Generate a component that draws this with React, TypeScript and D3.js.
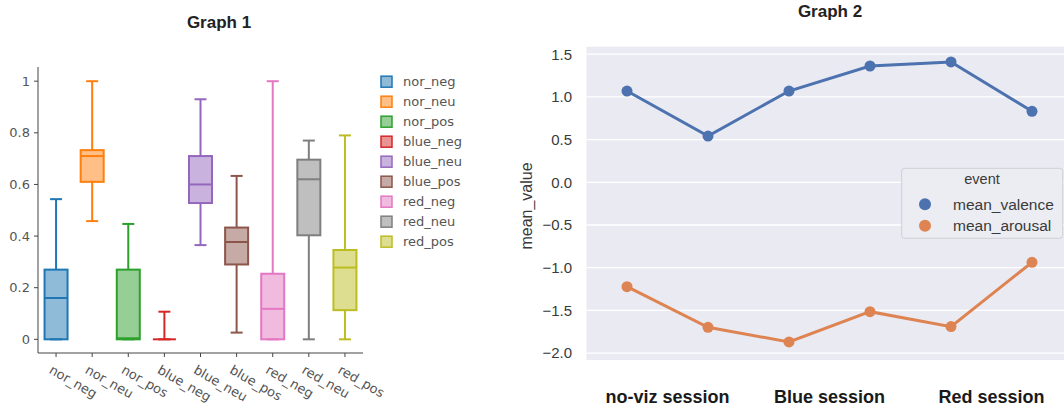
import React from "react"
import { scaleBand, scaleLinear, scalePoint, line } from "d3"

// Graph 1 data (box plot summaries)
const groups = ["nor_neg", "nor_neu", "nor_pos", "blue_neg", "blue_neu", "blue_pos", "red_neg", "red_neu", "red_pos"]
const lowWhisker = [0, 0.458, 0, 0, 0.365, 0.026, 0, 0, 0]
const q1 = [0, 0.61, 0, 0, 0.528, 0.29, 0, 0.403, 0.113]
const medians = [0.16, 0.71, 0.004, 0, 0.6, 0.377, 0.118, 0.62, 0.278]
const q3 = [0.27, 0.733, 0.27, 0, 0.71, 0.433, 0.254, 0.696, 0.346]
const highWhisker = [0.543, 1, 0.447, 0.107, 0.93, 0.633, 1, 0.77, 0.79]
const boxColors = ["#1f77b4", "#ff7f0e", "#2ca02c", "#d62728", "#9467bd", "#8c564b", "#e377c2", "#7f7f7f", "#bcbd22"]
const g1Ticks = [0, 0.2, 0.4, 0.6, 0.8, 1]

// Graph 2 data (point plot)
const steps = ["no-viz 1", "no-viz 2", "blue 1", "blue 2", "red 1", "red 2"]
const sessions = ["no-viz session", "Blue session", "Red session"]
const meanValence = [1.069, 0.542, 1.069, 1.362, 1.409, 0.831]
const meanArousal = [-1.222, -1.698, -1.87, -1.515, -1.69, -0.937]
const seriesNames = ["mean_valence", "mean_arousal"]
const seriesColors = ["#4c72b0", "#dd8452"]
const g2Ticks = [-2, -1.5, -1, -0.5, 0, 0.5, 1, 1.5]

const width = 1064
const height = 410

function Graph1() {
  const x = scaleBand().domain(groups).range([38, 363])
  const y = scaleLinear().domain([-0.053, 1.055]).range([353, 67])
  const boxW = 23
  const capW = 12
  const gray = "#555"
  const fmt = (v) => (v === 0 || v === 1 ? String(v) : v.toFixed(1))

  return (
    <g>
      <text x={219} y={28} textAnchor="middle" fontFamily="Liberation Sans, Arial" fontWeight="bold" fontSize={17} fill="#222">Graph 1</text>
      <line x1={38} x2={38} y1={67} y2={353} stroke="#444" strokeWidth={1} />
      <line x1={38} x2={363} y1={353} y2={353} stroke="#444" strokeWidth={1} />
      {g1Ticks.map(t => (
        <g key={t} transform={`translate(38, ${y(t)})`}>
          <line x1={-4} x2={0} stroke="#444" />
          <text x={-8} dy="0.35em" textAnchor="end" fontFamily="DejaVu Sans" fontSize={13} fill={gray}>{fmt(t)}</text>
        </g>
      ))}
      {groups.map(gname => {
        const cx = x(gname) + x.bandwidth() / 2
        return (
          <g key={gname} transform={`translate(${cx}, 353)`}>
            <line y2={4} stroke="#444" />
            <text transform="translate(-3, 11) rotate(30)" dy="0.75em" fontFamily="DejaVu Sans" fontSize={13} fill={gray}>{gname}</text>
          </g>
        )
      })}
      {groups.map((gname, i) => {
        const cx = x(gname) + x.bandwidth() / 2
        const c = boxColors[i]
        return (
          <g key={gname}>
            <line x1={cx} x2={cx} y1={y(q3[i])} y2={y(highWhisker[i])} stroke={c} strokeWidth={2} />
            <line x1={cx} x2={cx} y1={y(q1[i])} y2={y(lowWhisker[i])} stroke={c} strokeWidth={2} />
            <line x1={cx - capW / 2} x2={cx + capW / 2} y1={y(highWhisker[i])} y2={y(highWhisker[i])} stroke={c} strokeWidth={2} />
            <line x1={cx - capW / 2} x2={cx + capW / 2} y1={y(lowWhisker[i])} y2={y(lowWhisker[i])} stroke={c} strokeWidth={2} />
            <rect x={cx - boxW / 2} width={boxW} y={y(q3[i])} height={Math.max(0, y(q1[i]) - y(q3[i]))} fill={c} fillOpacity={0.5} stroke={c} strokeWidth={2} />
            <line x1={cx - boxW / 2} x2={cx + boxW / 2} y1={y(medians[i])} y2={y(medians[i])} stroke={c} strokeWidth={2} />
          </g>
        )
      })}
      {groups.map((gname, i) => (
        <g key={gname} transform={`translate(381, ${81.7 + i * 20})`}>
          <rect x={0} y={-5.5} width={11} height={11} fill={boxColors[i]} fillOpacity={0.5} stroke={boxColors[i]} strokeWidth={1.5} />
          <text x={22} dy="0.35em" fontFamily="DejaVu Sans" fontSize={13} fill={gray}>{gname}</text>
        </g>
      ))}
    </g>
  )
}

function Graph2() {
  const left = 586.5
  const right = 1072.5
  const top = 46.7
  const bottom = 360
  const x = scalePoint().domain(steps).range([left, right]).padding(0.5)
  const y = scaleLinear().domain([-2.081, 1.588]).range([bottom, top])
  const path = line().x((d, i) => x(steps[i])).y(d => y(d))
  const series = [meanValence, meanArousal]
  const fmt = (v) => v.toFixed(1).replace("-", "\u2212")
  const font = "Liberation Sans, Arial"

  return (
    <g>
      <text x={830} y={17} textAnchor="middle" fontFamily={font} fontWeight="bold" fontSize={17} fill="#222">Graph 2</text>
      <rect x={left} y={top} width={right - left} height={bottom - top} fill="#eaeaf2" />
      {g2Ticks.map(t => (
        <g key={t}>
          <line x1={left} x2={right} y1={y(t)} y2={y(t)} stroke="#fff" strokeWidth={1.3} />
          <text x={572} y={y(t)} dy="0.36em" textAnchor="end" fontFamily={font} fontSize={15} fill="#3a3a3a">{fmt(t)}</text>
        </g>
      ))}
      <text transform="translate(532, 206) rotate(-90)" textAnchor="middle" fontFamily={font} fontSize={16} fill="#3a3a3a">mean_value</text>
      {sessions.map((s, i) => {
        const cx = (x(steps[i * 2]) + x(steps[i * 2 + 1])) / 2
        return (
          <text key={s} x={cx} y={403} textAnchor="middle" fontFamily={font} fontWeight="bold" fontSize={18} fill="#1a1a1a">{s}</text>
        )
      })}
      {series.map((vals, si) => (
        <g key={seriesNames[si]}>
          <path d={path(vals)} fill="none" stroke={seriesColors[si]} strokeWidth={3} />
          {vals.map((v, i) => (
            <circle key={i} cx={x(steps[i])} cy={y(v)} r={5.5} fill={seriesColors[si]} />
          ))}
        </g>
      ))}
      <rect x={901.7} y={168.3} width={161} height={70} rx={3} fill="#ecedf3" stroke="#cfcfd4" strokeWidth={1} />
      <text x={982} y={184} textAnchor="middle" fontFamily={font} fontSize={14.5} fill="#3a3a3a">event</text>
      {seriesNames.map((n, i) => (
        <g key={n} transform={`translate(925, ${204.3 + i * 21.4})`}>
          <circle r={6} fill={seriesColors[i]} />
          <text x={28} dy="0.35em" fontFamily={font} fontSize={15.5} fill="#3a3a3a">{n}</text>
        </g>
      ))}
    </g>
  )
}

export default function App() {
  return (
    <svg width={width} height={height} style={{ position: "absolute", left: 0, top: 0, background: "#fff" }}>
      <Graph1 />
      <Graph2 />
    </svg>
  )
}
